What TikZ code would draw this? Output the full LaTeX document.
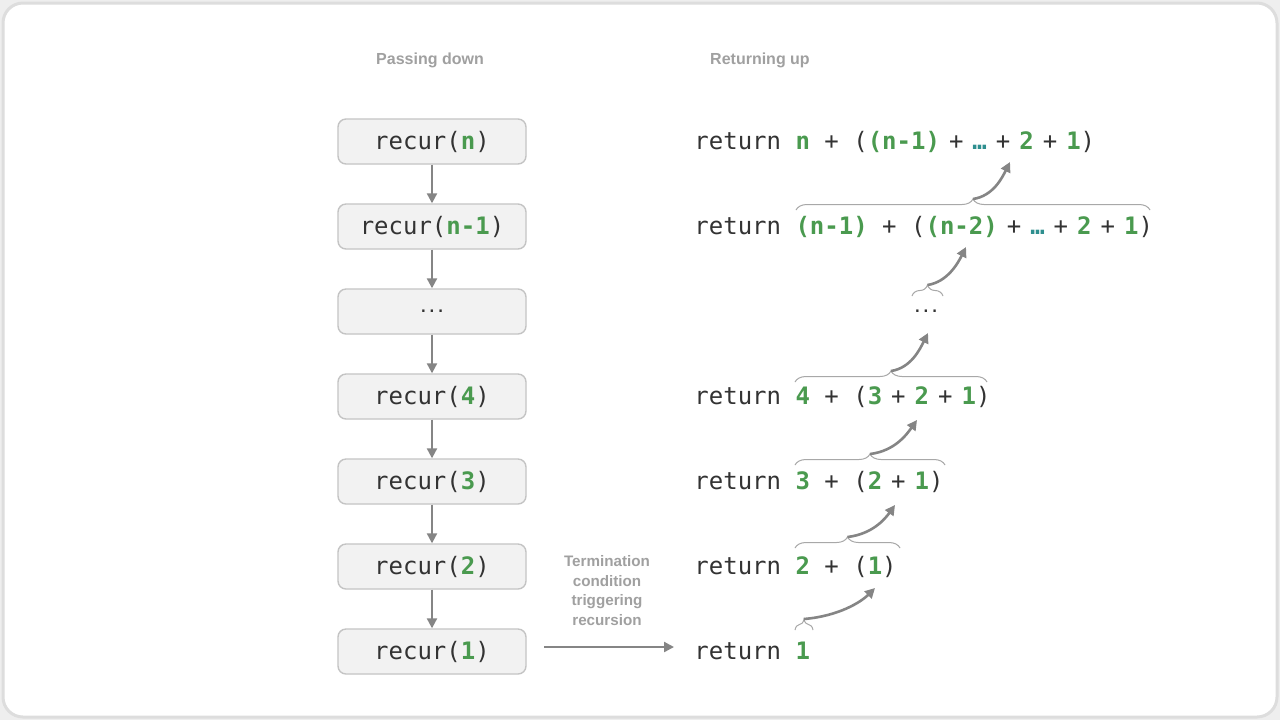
\documentclass[tikz,border=0pt]{standalone}
\usepackage{fontspec}
\setmainfont{Liberation Sans}
\newfontfamily\codefont{DejaVu Sans Mono}
\usetikzlibrary{arrows.meta,decorations.pathreplacing,calc}
\definecolor{codegreen}{HTML}{4A9A4F}
\definecolor{codeteal}{HTML}{2E8F8F}
\definecolor{codetext}{HTML}{333333}
\definecolor{boxfill}{HTML}{F2F2F2}
\definecolor{boxborder}{HTML}{C4C4C4}
\definecolor{arrowgrey}{HTML}{858585}
\definecolor{bracegrey}{HTML}{A8A8A8}
\definecolor{labelgrey}{HTML}{A0A0A0}
\definecolor{framebg}{HTML}{EEEEEE}
\definecolor{frameline}{HTML}{DDDDDD}
\newcommand{\grn}[1]{{\bfseries\color{codegreen}#1}}
\newcommand{\tdots}{{\bfseries\color{codeteal}…}}
\newcommand{\tsp}{\hspace{4.5pt}}
\newcommand{\middots}{{\rmfamily .\hspace{1pt}.\hspace{1pt}.}}
\tikzset{
  recbox/.style={draw=boxborder, fill=boxfill, rounded corners=4pt, minimum width=94pt,
    minimum height=22.5pt, line width=0.7pt, inner sep=0pt, text=codetext,
    font=\codefont\fontsize{12pt}{14pt}\selectfont},
  retline/.style={anchor=base west, inner sep=0pt, text=codetext,
    font=\codefont\fontsize{12pt}{14pt}\selectfont},
  flow/.style={draw=arrowgrey, line width=1.1pt, -{Triangle[length=5pt,width=5pt]}},
  curvearrow/.style={draw=arrowgrey, line width=1.3pt, -{Triangle[length=5pt,width=5pt]}},
  bracestyle/.style={draw=bracegrey, line width=0.5pt, decorate, decoration={brace, amplitude=5.5pt}},
  headlabel/.style={text=labelgrey, font=\bfseries\fontsize{8pt}{10pt}\selectfont},
  termlabel/.style={text=labelgrey, align=center, font=\bfseries\fontsize{7.6pt}{9.8pt}\selectfont}
}
\begin{document}
\begin{tikzpicture}[x=0.5pt,y=-0.5pt]
\useasboundingbox (0,0) rectangle (1280,720);
\fill[framebg] (0,0) rectangle (1280,720);
\draw[fill=white, draw=frameline, line width=1.5pt, rounded corners=10pt] (3,3) rectangle (1277,717);

% headings
\node[headlabel] (hdown) at (430,60) {Passing down};
\node[headlabel] (hup) at (760,60) {Returning up};

% call boxes
\node[recbox] (r1) at (432,141.5) {recur(\grn{n})};
\node[recbox] (r2) at (432,226.5) {recur(\grn{n-1})};
\node[recbox] (r3) at (432,311.5) {\middots};
\node[recbox] (r4) at (432,396.5) {recur(\grn{4})};
\node[recbox] (r5) at (432,481.5) {recur(\grn{3})};
\node[recbox] (r6) at (432,566.5) {recur(\grn{2})};
\node[recbox] (r7) at (432,651.5) {recur(\grn{1})};
\draw[flow] (r1.south) -- (r2.north);
\draw[flow] (r2.south) -- (r3.north);
\draw[flow] (r3.south) -- (r4.north);
\draw[flow] (r4.south) -- (r5.north);
\draw[flow] (r5.south) -- (r6.north);
\draw[flow] (r6.south) -- (r7.north);

% return lines
\node[retline] (l1) at (694,149) {return \grn{n} + (\grn{(n-1)}\tsp+\tsp\tdots\tsp+\tsp\grn{2}\tsp+\tsp\grn{1})};
\node[retline] (l2) at (694,234) {return \grn{(n-1)} + (\grn{(n-2)}\tsp+\tsp\tdots\tsp+\tsp\grn{2}\tsp+\tsp\grn{1})};
\node[inner sep=0pt, text=codetext, font=\fontsize{12pt}{14pt}\selectfont] (l3) at (926,311) {\middots};
\node[retline] (l4) at (694,404) {return \grn{4} + (\grn{3}\tsp+\tsp\grn{2}\tsp+\tsp\grn{1})};
\node[retline] (l5) at (694,489) {return \grn{3} + (\grn{2}\tsp+\tsp\grn{1})};
\node[retline] (l6) at (694,574) {return \grn{2} + (\grn{1})};
\node[retline] (l7) at (694,659) {return \grn{1}};

% termination
\node[termlabel] (term) at (607,590.5) {Termination\\condition\\triggering\\recursion};
\coordinate (hs) at (544,647);
\coordinate (he) at (674,647);
\draw[flow] (hs) -- (he);

% braces
\coordinate (b2s) at (796,210);  \coordinate (b2e) at (1150,210);  \coordinate (b2t) at (973,199);
\coordinate (b3s) at (912,296);  \coordinate (b3e) at (943,296);   \coordinate (b3t) at (927.5,285);
\coordinate (b4s) at (795,382);  \coordinate (b4e) at (987,382);   \coordinate (b4t) at (891,371);
\coordinate (b5s) at (795,465);  \coordinate (b5e) at (945,465);   \coordinate (b5t) at (870,454);
\coordinate (b6s) at (795,548);  \coordinate (b6e) at (900,548);   \coordinate (b6t) at (847.5,537);
\coordinate (b7s) at (795,630);  \coordinate (b7e) at (813,630);   \coordinate (b7t) at (804,619);
\draw[bracestyle] (b2s) -- (b2e);
\draw[bracestyle] (b3s) -- (b3e);
\draw[bracestyle] (b4s) -- (b4e);
\draw[bracestyle] (b5s) -- (b5e);
\draw[bracestyle] (b6s) -- (b6e);
\draw[bracestyle] (b7s) -- (b7e);

% arrow targets
\coordinate (a1) at (1010,162);
\coordinate (a2) at (966,247);
\coordinate (a3) at (928,333);
\coordinate (a4) at (917,420);
\coordinate (a5) at (895,505);
\coordinate (a6) at (875,588);
\draw[curvearrow] (b7t) .. controls ($(b7t)+(35,-3)$) and ($(a6)+(-14,14)$) .. (a6);
\draw[curvearrow] (b6t) .. controls ($(b6t)+(25,-3)$) and ($(a5)+(-10,14)$) .. (a5);
\draw[curvearrow] (b5t) .. controls ($(b5t)+(25,-3)$) and ($(a4)+(-10,14)$) .. (a4);
\draw[curvearrow] (b4t) .. controls ($(b4t)+(20,-3)$) and ($(a3)+(-8,16)$) .. (a3);
\draw[curvearrow] (b3t) .. controls ($(b3t)+(20,-3)$) and ($(a2)+(-8,16)$) .. (a2);
\draw[curvearrow] (b2t) .. controls ($(b2t)+(20,-3)$) and ($(a1)+(-8,16)$) .. (a1);
\end{tikzpicture}
\end{document}
